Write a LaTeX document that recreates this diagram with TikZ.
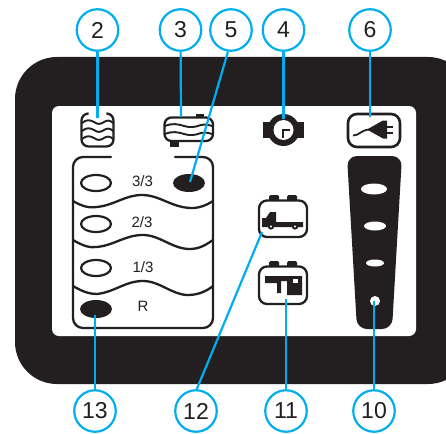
\documentclass[tikz,border=0pt]{standalone}
\usepackage{fontspec}
\setmainfont{Liberation Sans}
\definecolor{panelblack}{HTML}{231F20}
\definecolor{calloutblue}{HTML}{00AEEF}
\tikzset{
  callout/.style={circle, draw=calloutblue, line width=2.2pt, fill=white, minimum size=41.5pt, inner sep=0pt, text=panelblack, font=\fontsize{23}{23}\selectfont},
  leader/.style={draw=calloutblue, line width=2.2pt},
  symline/.style={draw=panelblack, line width=2.3pt, line cap=round},
  waveline/.style={draw=panelblack, line width=1.9pt, line cap=round},
  lamp/.style={draw=panelblack, line width=2.2pt, fill=white},
  lampon/.style={fill=panelblack},
  slot/.style={fill=white},
  levellab/.style={text=panelblack, font=\fontsize{15}{15}\selectfont, inner sep=0pt}
}
\begin{document}
\begin{tikzpicture}[x=1pt, y=-1pt]
  \useasboundingbox (0,0) rectangle (446,433);

  % === FRAME ===
  \begin{scope}
    \clip (0,0) rectangle (446,433);
    \fill[panelblack, rounded corners=42pt] (15,57) rectangle (470,384);
  \end{scope}
  \fill[white, rounded corners=7pt] (52,106) rectangle (416,336);

  % === TANK LEVELS ===
  \draw[symline, rounded corners=10pt] (111,157) -- (73,157) -- (73,328) -- (213,328) -- (213,157) -- (175,157);
  \draw[symline] (73,201) .. controls (83,207) and (90,208) .. (97,207) .. controls (115,205) and (125,195) .. (142,195) .. controls (160,195) and (172,208) .. (192,208) .. controls (200,208) and (207,205) .. (213,201);
  \draw[symline] (73,240) .. controls (83,246) and (90,248) .. (97,247) .. controls (115,245) and (125,235) .. (143,235) .. controls (160,235) and (172,249) .. (190,249) .. controls (200,249) and (207,244) .. (213,240);
  \draw[symline] (73,286) .. controls (83,292) and (90,294) .. (97,294) .. controls (115,292) and (125,281) .. (143,281) .. controls (160,281) and (172,295) .. (188,295) .. controls (198,295) and (207,291) .. (213,286);

  \draw[lamp] (96,183) ellipse (15 and 8);
  \draw[lamp] (96,224) ellipse (15 and 8);
  \draw[lamp] (96,268) ellipse (15 and 8);
  \fill[lampon] (189,183) ellipse (16 and 9);
  \fill[lampon] (96,309) ellipse (16 and 9);

  \node[levellab] (lab33) at (142.5,181) {3/3};
  \node[levellab] (lab23) at (142,222) {2/3};
  \node[levellab] (lab13) at (143,267) {1/3};
  \node[levellab] (labR) at (143,306) {R};

  % === FRESH WATER ICON ===
  \draw[symline, rounded corners=7pt] (88,113.5) -- (81.5,113.5) -- (81.5,146.5) -- (113.5,146.5) -- (113.5,113.5) -- (107,113.5);
  \foreach \y in {122,130,138} {
    \draw[waveline] (82,\y+1) .. controls (87,\y-3) and (90,\y-2) .. (94,\y) .. controls (98,\y+3) and (101,\y+2) .. (104,\y) .. controls (107,\y-2) and (110,\y-2) .. (113,\y+1);
  }

  % === WASTE TANK ICON ===
  \fill[panelblack] (195.5,114) rectangle (203.5,118);
  \fill[panelblack] (170,141) rectangle (179,147);
  \draw[symline, fill=white, rounded corners=7pt] (164.5,117.5) rectangle (213,141);
  \foreach \y in {125,133} {
    \draw[waveline] (165,\y+1) .. controls (172,\y-2) and (178,\y-1) .. (184,\y+1) .. controls (190,\y+3) and (196,\y+2) .. (201,\y) .. controls (205,\y-1) and (209,\y) .. (212,\y+1);
  }

  % === PUMP ICON ===
  \fill[panelblack] (263,122) rectangle (304,138);
  \fill[panelblack] (283.5,130) circle (16);
  \fill[white] (283.5,130) circle (10);
  \draw[panelblack, line width=2pt] (290,129.5) -- (283,129.5) -- (283,138);

  % === MAINS ICON ===
  \draw[symline, line width=2.6pt, rounded corners=9pt] (348,114) rectangle (400,147);
  \draw[panelblack, line width=1.8pt] (353,135.5) .. controls (360,135.5) and (360,130) .. (370,129.5);
  \fill[panelblack] (367,129.5) -- (383,120.5) -- (387,120.5) -- (387,138.5) -- (383,138.5) -- cycle;
  \draw[panelblack, line width=2pt] (387,126.5) -- (393,126.5) (387,133) -- (393,133);

  % === GAUGE ===
  \fill[panelblack, rounded corners=10pt] (347,156) -- (402,156) -- (392,329) -- (357,329) -- cycle;
  \fill[slot] (374,189) ellipse (13 and 5.5);
  \fill[slot] (375,226) ellipse (11 and 4.5);
  \fill[slot] (375,263) ellipse (9 and 3.5);
  \fill[slot] (375,301) circle (5);

  % === VEHICLE BATTERY ICON ===
  \fill[panelblack, rounded corners=1.5pt] (269,195) rectangle (279,202);
  \fill[panelblack, rounded corners=1.5pt] (287,195) rectangle (297,202);
  \draw[symline, fill=white, rounded corners=8pt] (259,200.5) rectangle (307,237);
  \fill[panelblack] (262,227) -- (262,218) -- (266,218) -- (270,212) -- (276,212) -- (276,222) -- (303,222) -- (303,227) -- cycle;
  \foreach \x in {271,295} {
    \fill[panelblack] (\x,226.5) circle (3.2);
    \fill[white] (\x,226.5) circle (1.2);
  }

  % === LIVING BATTERY ICON ===
  \fill[panelblack, rounded corners=1.5pt] (269,261) rectangle (279,268);
  \fill[panelblack, rounded corners=1.5pt] (287,261) rectangle (297,268);
  \draw[symline, fill=white, rounded corners=8pt] (259,266.5) rectangle (307,304);
  \fill[panelblack] (265,276) -- (302,276) -- (302,295) -- (287,295) -- (287,281) -- (281,281) -- (281,293) -- (277,293) -- (277,283) -- (265,283) -- cycle;
  \fill[white] (293,279) rectangle (298,283);

  % === CALLOUTS ===
  \node[callout] (n2) at (97.5,30) {2};
  \node[callout] (n3) at (180.5,30) {3};
  \node[callout] (n5) at (231,30) {5};
  \node[callout] (n4) at (283.5,30) {4};
  \node[callout] (n6) at (370,30) {6};
  \node[callout] (n13) at (95,411) {13};
  \node[callout] (n12) at (196,411) {12};
  \node[callout] (n11) at (286,411) {11};
  \node[callout] (n10) at (374,411) {10};

  \coordinate (p2) at (97.5,118);
  \coordinate (p3) at (181,117);
  \coordinate (p5) at (190,182);
  \coordinate (p4) at (283.5,119);
  \coordinate (p6) at (370,117);
  \coordinate (p13) at (95,315);
  \coordinate (p12) at (262,232);
  \coordinate (p11) at (286,299);
  \coordinate (p10) at (374,301);

  \foreach \a in {2,3,4,6,10,11,13} {
    \draw[leader] (n\a) -- (p\a);
  }
  \draw[leader] (n5.262) -- (p5);
  \draw[leader] (n12.88) -- (p12);
\end{tikzpicture}
\end{document}
